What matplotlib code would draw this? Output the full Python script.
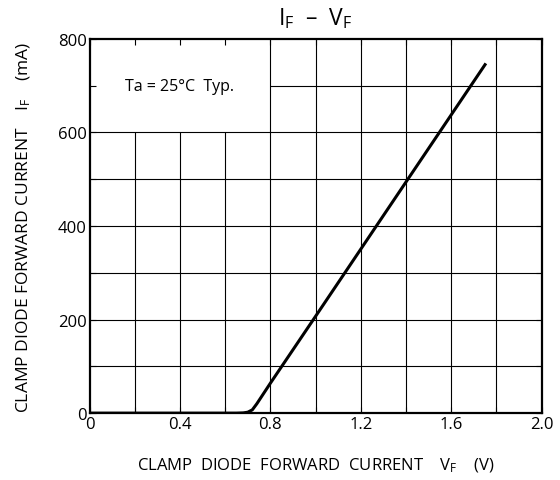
import numpy as np
import matplotlib
matplotlib.use('Agg')
import matplotlib.pyplot as plt

# 读出的曲线点 (VF, IF)
vf = [0.0, 0.65, 0.68, 0.70, 0.72, 0.74, 0.80, 1.00, 1.40, 1.75]
i_f = [0.0, 0.0, 0.5, 2.0, 7.0, 20.0, 64.0, 207.0, 494.0, 745.0]

x_ticks = [0, 0.4, 0.8, 1.2, 1.6, 2.0]
x_labels = ['0', '0.4', '0.8', '1.2', '1.6', '2.0']
y_ticks = [0, 200, 400, 600, 800]
x_grid = [0.2, 0.4, 0.6, 0.8, 1.0, 1.2, 1.4, 1.6, 1.8]
y_grid = [100, 200, 300, 400, 500, 600, 700]

plt.rcParams['font.family'] = ['Open Sans', 'DejaVu Sans']
plt.rcParams['mathtext.fontset'] = 'custom'
plt.rcParams['mathtext.rm'] = 'Open Sans'
plt.rcParams['mathtext.it'] = 'Open Sans'

fig = plt.figure(figsize=(5.6, 4.81), dpi=100)
ax = fig.add_axes([0.160, 0.139, 0.807, 0.778])

# 网格线: 左上角注释区域不画
for x in x_grid:
    top = 600 if x < 0.8 else 800
    ax.vlines(x, 0, top, colors='k', linewidth=0.8, zorder=1)
for y in y_grid:
    left = 0.8 if y > 600 else 0
    ax.hlines(y, left, 2.0, colors='k', linewidth=0.8, zorder=1)

ax.plot(vf, i_f, color='k', linewidth=2.2, zorder=3)

ax.set_xlim(0, 2.0)
ax.set_ylim(0, 800)
ax.set_xticks(x_ticks)
ax.set_xticklabels(x_labels)
ax.set_yticks(y_ticks)
ax.set_xticks(x_grid, minor=True)
ax.set_yticks(y_grid, minor=True)
ax.tick_params(which='both', direction='in', top=True, right=True, labelsize=12, pad=2)
ax.tick_params(which='major', length=4, width=0.8)
ax.tick_params(which='minor', length=4, width=0.8)
for s in ax.spines.values():
    s.set_linewidth(1.6)

ax.text(0.4, 700, 'Ta = 25°C  Typ.', ha='center', va='center', fontsize=11.5)

ax.set_title(r'I$_\mathregular{F}$  –  V$_\mathregular{F}$', fontsize=16.5, pad=11)
ax.set_xlabel(r'CLAMP  DIODE  FORWARD  CURRENT    V$_\mathregular{F}$    (V)', fontsize=12, labelpad=17)
ax.set_ylabel(r'CLAMP DIODE FORWARD CURRENT    I$_\mathregular{F}$    (mA)', fontsize=12.5, labelpad=18)

plt.savefig('out.png', dpi=100)
